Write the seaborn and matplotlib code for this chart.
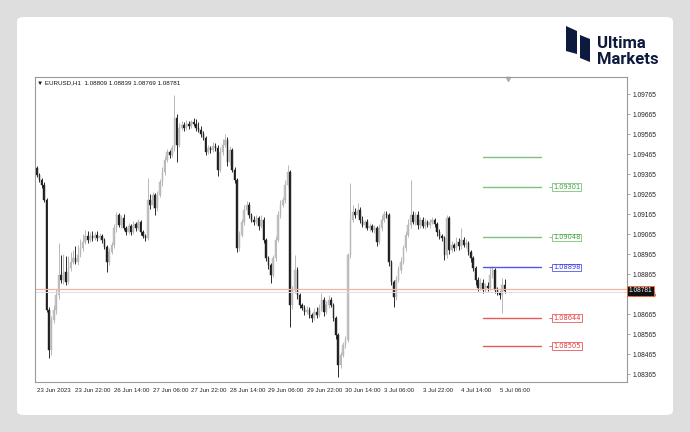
import numpy as np
import pandas as pd
import matplotlib
matplotlib.use("Agg")
import matplotlib.pyplot as plt
import seaborn as sns
from matplotlib.patches import FancyBboxPatch, Polygon

# EURUSD H1 candles, prices in points above 1.08000 (1 point = 0.00001)
first_open = 1395
closes = [
    1360, 1335, 1310, 1235, 685, 485, 635, 685, 760, 860,
    835, 875, 825, 895, 925, 945, 925, 960, 995, 1025,
    1055, 1035, 1055, 1045, 1060, 1045, 1055, 1035, 1000, 925,
    975, 1010, 1095, 1160, 1110, 1145, 1095, 1075, 1105, 1075,
    1115, 1095, 1125, 1075, 1055, 1045, 1235, 1210, 1260, 1195,
    1260, 1325, 1375, 1435, 1475, 1460, 1495, 1645, 1510, 1595,
    1610, 1595, 1615, 1605, 1625, 1615, 1595, 1585, 1565, 1545,
    1475, 1495, 1485, 1505, 1495, 1385, 1475, 1510, 1535, 1425,
    1485, 1385, 1335, 995, 1060, 1125, 1185, 1210, 1160, 1135,
    1125, 1145, 1105, 1135, 1035, 945, 910, 860, 945, 1035,
    1160, 1210, 1235, 1310, 1375, 710, 785, 885, 760, 710,
    695, 675, 685, 660, 645, 675, 660, 695, 735, 675,
    710, 735, 710, 645, 560, 410, 460, 510, 535, 960,
    1135, 1175, 1160, 1185, 1135, 1110, 1125, 1095, 1105, 1085,
    1095, 1025, 1095, 1135, 1165, 1160, 925, 825, 750, 835,
    885, 925, 995, 1060, 1110, 1160, 1125, 1160, 1110, 1135,
    1105, 1125, 1110, 1125, 1135, 1115, 1075, 1055, 1045, 960,
    1145, 985, 1010, 995, 1025, 1005, 1035, 1010, 1020, 975,
    945, 895, 835, 795, 820, 785, 805, 795, 860, 885,
    785, 770, 760, 809, 781,
]
upper_wick = [
    10, 8, 10, 15, 10, 15, 20, 25, 30, 160,
    100, 90, 80, 60, 50, 40, 60, 50, 45, 40,
    30, 25, 20, 25, 15, 20, 15, 10, 10, 10,
    20, 15, 20, 15, 10, 15, 20, 10, 15, 10,
    15, 10, 15, 10, 10, 10, 110, 30, 15, 10,
    20, 15, 25, 20, 15, 10, 15, 115, 20, 25,
    20, 15, 20, 15, 10, 20, 25, 30, 20, 15,
    10, 15, 10, 20, 15, 15, 25, 30, 30, 15,
    20, 10, 15, 10, 20, 15, 25, 20, 15, 10,
    20, 15, 10, 25, 15, 10, 10, 10, 15, 20,
    20, 25, 15, 25, 35, 10, 20, 75, 15, 10,
    10, 15, 20, 15, 10, 20, 25, 20, 35, 15,
    20, 25, 15, 10, 10, 10, 15, 15, 20, 10,
    185, 35, 20, 35, 15, 20, 10, 15, 15, 10,
    15, 10, 20, 25, 15, 15, 10, 10, 10, 20,
    20, 25, 15, 20, 30, 175, 20, 15, 20, 15,
    15, 20, 10, 15, 15, 10, 10, 15, 10, 10,
    15, 10, 20, 10, 25, 20, 60, 15, 20, 10,
    10, 10, 10, 15, 25, 20, 15, 20, 40, 20,
    10, 15, 10, 36, 30,
]
lower_wick = [
    10, 10, 15, 10, 10, 40, 25, 15, 20, 20,
    15, 20, 15, 10, 15, 10, 10, 15, 10, 15,
    10, 15, 10, 15, 10, 15, 10, 15, 10, 50,
    15, 10, 15, 20, 10, 15, 10, 15, 10, 15,
    10, 15, 10, 15, 10, 15, 10, 20, 15, 35,
    15, 10, 20, 15, 10, 15, 10, 15, 85, 10,
    10, 15, 10, 15, 10, 10, 15, 10, 15, 10,
    15, 10, 15, 10, 15, 30, 10, 15, 10, 20,
    15, 10, 15, 20, 15, 10, 15, 10, 15, 10,
    15, 10, 20, 10, 15, 15, 20, 40, 10, 15,
    10, 15, 10, 15, 10, 110, 20, 15, 20, 15,
    10, 15, 10, 15, 20, 10, 15, 10, 15, 20,
    10, 15, 10, 15, 20, 60, 15, 10, 15, 10,
    15, 10, 15, 10, 15, 10, 15, 10, 15, 10,
    15, 20, 10, 15, 10, 15, 20, 15, 50, 15,
    10, 15, 10, 15, 10, 15, 10, 15, 20, 15,
    10, 15, 10, 15, 10, 15, 20, 15, 15, 25,
    15, 20, 10, 15, 10, 20, 15, 10, 15, 15,
    20, 15, 25, 15, 10, 15, 10, 15, 10, 15,
    15, 10, 20, 90, 12,
]

x_labels = ["23 Jun 2023", "23 Jun 22:00", "26 Jun 14:00", "27 Jun 06:00",
            "27 Jun 22:00", "28 Jun 14:00", "29 Jun 06:00", "29 Jun 22:00",
            "30 Jun 14:00", "3 Jul 06:00", "3 Jul 22:00", "4 Jul 14:00",
            "5 Jul 06:00"]
y_labels = ["1.08365", "1.08465", "1.08565", "1.08665", "1.08765", "1.08865",
            "1.08965", "1.09065", "1.09165", "1.09265", "1.09365", "1.09465",
            "1.09565", "1.09665", "1.09765"]

level_prices = [1.09448, 1.09301, 1.09048, 1.08898, 1.08644, 1.08505]
level_colors = ["#7cc47c", "#7cc47c", "#7cc47c", "#5555ee", "#e85a5a", "#e85a5a"]
level_text = ["#3c9c3c", "#3c9c3c", "#3c9c3c", "#3434d8", "#e03c3c", "#e03c3c"]
level_labels = [None, "1.09301", "1.09048", "1.08898", "1.08644", "1.08505"]
header = "\u25bc EURUSD,H1  1.08809 1.08839 1.08769 1.08781"
last_price = 1.08781

# build OHLC table
df = pd.DataFrame({"close": closes, "up": upper_wick, "dn": lower_wick})
df["open"] = [first_open] + closes[:-1]
df["high"] = df[["open", "close"]].max(axis=1) + df["up"]
df["low"] = df[["open", "close"]].min(axis=1) - df["dn"]
for c in ["open", "close", "high", "low"]:
    df[c] = 1.08 + df[c] / 1e5
df["bar"] = np.arange(len(df))
bull = df[df["close"] >= df["open"]]
bear = df[df["close"] < df["open"]]

sns.set_style("white")
plt.rcParams["font.family"] = ["Liberation Sans", "DejaVu Sans"]

W, H = 690, 432
fig = plt.figure(figsize=(W / 100, H / 100), dpi=100)
fig.patch.set_facecolor("#dedede")
card = FancyBboxPatch((17 / W, 1 - 415 / H), (673 - 17) / W, (415 - 17) / H,
                      boxstyle="round,pad=0,rounding_size=0.01",
                      transform=fig.transFigure, fc="white", ec="none", zorder=-10)
fig.patches.append(card)

ax = fig.add_axes([35 / W, 1 - 382 / H, (627 - 35) / W, (382 - 77) / H])
ax.set_zorder(5)
ax.set_facecolor("white")

# wicks and bodies
ax.vlines(bull["bar"], bull["low"], bull["high"], color="#b8b8b8", lw=0.7)
ax.vlines(bear["bar"], bear["low"], bear["high"], color="#2a2a2a", lw=0.7)
ax.bar(bull["bar"], bull["close"] - bull["open"], bottom=bull["open"],
       width=0.62, color="#c6c6c6", edgecolor="#b0b0b0", lw=0.3)
ax.bar(bear["bar"], bear["open"] - bear["close"], bottom=bear["close"],
       width=0.62, color="#1e1e1e", edgecolor="#1e1e1e", lw=0.3)

# bid / ask lines
ax.axhline(last_price + 0.00008, color="#f4b4a0", lw=0.9)
ax.axhline(last_price - 0.00004, color="#dcdce6", lw=0.7)

# level lines and labels
for p, c, tc, lab in zip(level_prices, level_colors, level_text, level_labels):
    sns.lineplot(x=[185.2, 209.0], y=[p, p], color=c, lw=1.0, ax=ax)
    if lab:
        ax.plot([212.5, 213.8], [p, p], color=c, lw=0.6)
        ax.text(214.2, p, lab, fontsize=4.8, color=tc, va="center", ha="left",
                family="DejaVu Sans",
                bbox=dict(boxstyle="square,pad=0.12", fc="white", ec=c, lw=0.6))

ax.set_xlim(-0.8, 244.8)
ax.set_ylim(1.08325, 1.0985)

ax.set_xticks(np.arange(len(x_labels)) * 16)
ax.set_xticklabels(x_labels, fontsize=4.4, ha="left", color="#222222")
ax.set_yticks([float(v) for v in y_labels])
ax.set_yticklabels(y_labels, fontsize=4.8, color="#222222")
ax.yaxis.tick_right()
ax.tick_params(axis="both", direction="out", length=2, width=0.5,
               color="#888888", pad=2)
for s in ax.spines.values():
    s.set_color("#9a9a9a")
    s.set_linewidth(0.8)

ax.text(0.004, 0.988, header, transform=ax.transAxes, fontsize=4.5,
        va="top", ha="left", color="#111111")
ax.plot([195.5], [1.0984], marker="v", ms=3, color="#b0b0b0", clip_on=False)

# current price tag
ax.annotate("1.08781", xy=(1.003, last_price), xycoords=("axes fraction", "data"),
            fontsize=4.8, color="white", va="center", ha="left", zorder=10,
            bbox=dict(boxstyle="square,pad=0.2", fc="#111111", ec="#ff6a30", lw=0.6),
            annotation_clip=False)

# logo
navy = "#0d1a3d"
def px(pts):
    return [(x / W, 1 - y / H) for x, y in pts]
fig.patches.append(Polygon(px([(566, 26), (577, 31), (577, 54), (566, 51)]),
                           closed=True, transform=fig.transFigure, fc=navy, ec="none"))
fig.patches.append(Polygon(px([(580, 35), (590, 39), (590, 62), (580, 58)]),
                           closed=True, transform=fig.transFigure, fc=navy, ec="none"))
fig.text(597 / W, 1 - 44 / H, "Ultima", fontsize=12, fontweight="bold",
         family="Roboto", color=navy, va="center", ha="left")
fig.text(597 / W, 1 - 59 / H, "Markets", fontsize=12, fontweight="bold",
         family="Roboto", color=navy, va="center", ha="left")

fig.savefig("out.png", dpi=100, facecolor=fig.get_facecolor())
